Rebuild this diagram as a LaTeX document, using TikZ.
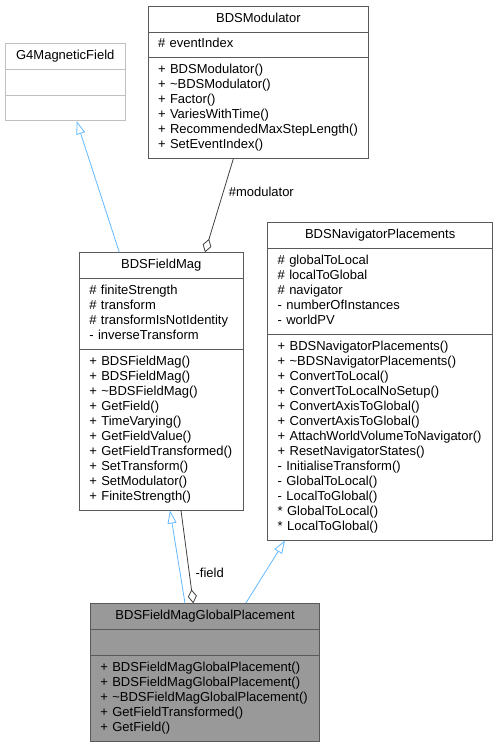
\documentclass[tikz,border=0pt]{standalone}
\usepackage{fontspec}
\setmainfont{Liberation Sans}
\usetikzlibrary{shapes.multipart,arrows.meta}

\definecolor{edgeblue}{HTML}{63B8FF}
\definecolor{edgegray}{HTML}{404040}
\definecolor{boxgray}{HTML}{999999}

\newcommand{\classtitle}[1]{\hskip0pt plus1filll\strut#1\hskip0pt plus1filll\null}

\begin{document}
\begin{tikzpicture}[x=1pt, y=-1pt,
    classbox/.style={rectangle split, rectangle split parts=3, draw=black!65, fill=white,
      line width=0.8pt, align=left, inner xsep=10pt, inner ysep=5pt,
      font=\fontsize{13}{15}\selectfont, anchor=north west},
    inherit/.style={draw=edgeblue, line width=0.8pt, -{Triangle[open, length=13pt, width=9pt]}},
    member/.style={draw=edgegray, line width=0.8pt, -{Diamond[open, length=14pt, width=9pt]}},
    edgelabel/.style={font=\fontsize{13}{15}\selectfont, inner sep=5pt}]
    \useasboundingbox (0,0) rectangle (498,747);

    \node[classbox, draw=black!25, text width=99.7pt] (g4) at (5,43)
      {\classtitle{G4MagneticField}
       \nodepart{second}\strut
       \nodepart{third}\strut};
    \node[classbox, text width=200.6pt] (modulator) at (147.7,5.7)
      {\classtitle{BDSModulator}
       \nodepart{second}\strut\# eventIndex
       \nodepart{third}\strut+ BDSModulator()\\
       + \textasciitilde BDSModulator()\\
       + Factor()\\
       + VariesWithTime()\\
       + RecommendedMaxStepLength()\\
       + SetEventIndex()\strut};
    \node[classbox, text width=143.7pt] (fieldmag) at (79,252.3)
      {\classtitle{BDSFieldMag}
       \nodepart{second}\strut\# finiteStrength\\
       \# transform\\
       \# transformIsNotIdentity\\
       - inverseTransform\strut
       \nodepart{third}\strut+ BDSFieldMag()\\
       + BDSFieldMag()\\
       + \textasciitilde BDSFieldMag()\\
       + GetField()\\
       + TimeVarying()\\
       + GetFieldValue()\\
       + GetFieldTransformed()\\
       + SetTransform()\\
       + SetModulator()\\
       + FiniteStrength()\strut};
    \node[classbox, text width=205pt] (navigator) at (267.3,222.3)
      {\classtitle{BDSNavigatorPlacements}
       \nodepart{second}\strut\# globalToLocal\\
       \# localToGlobal\\
       \# navigator\\
       - numberOfInstances\\
       - worldPV\strut
       \nodepart{third}\strut+ BDSNavigatorPlacements()\\
       + \textasciitilde BDSNavigatorPlacements()\\
       + ConvertToLocal()\\
       + ConvertToLocalNoSetup()\\
       + ConvertAxisToGlobal()\\
       + ConvertAxisToGlobal()\\
       + AttachWorldVolumeToNavigator()\\
       + ResetNavigatorStates()\\
       - InitialiseTransform()\\
       - GlobalToLocal()\\
       - LocalToGlobal()\\
       {*} GlobalToLocal()\\
       {*} LocalToGlobal()\strut};
    \node[classbox, fill=boxgray, text width=209.3pt] (placement) at (90,603.3)
      {\classtitle{BDSFieldMagGlobalPlacement}
       \nodepart{second}\strut
       \nodepart{third}\strut+ BDSFieldMagGlobalPlacement()\\
       + BDSFieldMagGlobalPlacement()\\
       + \textasciitilde BDSFieldMagGlobalPlacement()\\
       + GetFieldTransformed()\\
       + GetField()\strut};

    % Vererbung und Mitglieder
    \draw[inherit] ([xshift=40.3pt]fieldmag.north west) -- ([xshift=71.7pt]g4.south west);
    \draw[member] ([xshift=85.6pt]modulator.south west) -- node[edgelabel, pos=0.35, right] {\#modulator} ([xshift=126pt]fieldmag.north west);
    \draw[inherit] ([xshift=95pt]placement.north west) -- ([xshift=91pt]fieldmag.south west);
    \draw[member] ([xshift=102pt]fieldmag.south west) -- node[edgelabel, pos=0.67, right, xshift=1pt] {-field} ([xshift=103.3pt]placement.north west);
    \draw[inherit] ([xshift=155.7pt]placement.north west) -- ([xshift=17.7pt]navigator.south west);
\end{tikzpicture}
\end{document}
